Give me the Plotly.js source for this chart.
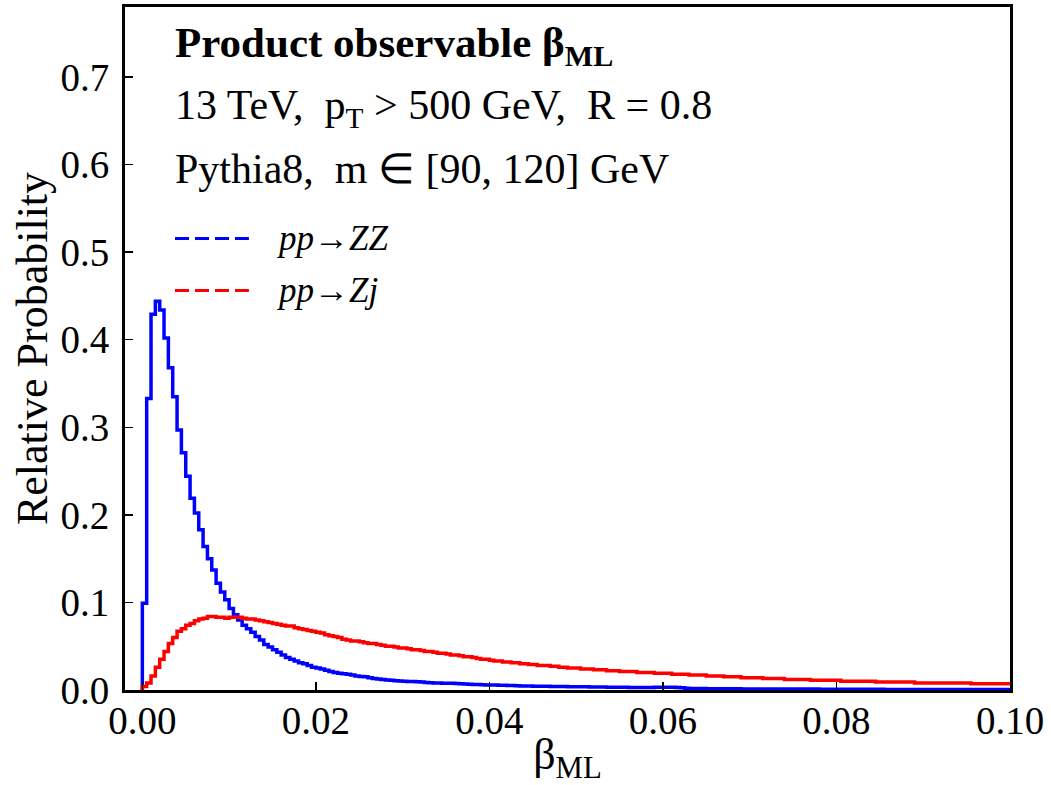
<!DOCTYPE html>
<html>
<head>
<meta charset="utf-8">
<script src="https://cdn.plot.ly/plotly-3.0.1.min.js"></script>
<style>html,body{margin:0;padding:0;background:#fff;}#chart{width:1051px;height:785px;}</style>
</head>
<body>
<div id="chart"></div>
<script>
// Histogram: 200 bins of width 0.0005 over [0, 0.1]
const binWidth = 0.0005;
const nBins = 200;

// pp -> ZZ (blue)
const zzValues = [
  0.099, 0.333, 0.429, 0.444, 0.434, 0.402, 0.368, 0.335, 0.297, 0.271,
  0.244, 0.219, 0.202, 0.183, 0.164, 0.150, 0.137, 0.122, 0.112, 0.103,
  0.093, 0.086, 0.080, 0.074, 0.070, 0.066, 0.061, 0.057, 0.052, 0.049,
  0.046, 0.043, 0.040, 0.037, 0.035, 0.033, 0.031, 0.030, 0.028, 0.026,
  0.025, 0.024, 0.0225, 0.021, 0.020, 0.019, 0.0185, 0.018, 0.017, 0.016,
  0.0155, 0.015, 0.014, 0.013, 0.0125, 0.012, 0.0115, 0.011, 0.0107, 0.0104,
  0.0100, 0.0098, 0.0096, 0.0093, 0.0090, 0.0087, 0.0084, 0.0081, 0.0079, 0.0078,
  0.0077, 0.0076, 0.0075, 0.0072, 0.0069, 0.0066, 0.0064, 0.0062, 0.0060, 0.0058,
  0.0057, 0.0056, 0.0054, 0.0053, 0.0051, 0.0050, 0.0048, 0.0047, 0.0046, 0.0045,
  0.0044, 0.0043, 0.0042, 0.0042, 0.0041, 0.0040, 0.0040, 0.0039, 0.0038, 0.0038,
  0.0037, 0.0036, 0.0036, 0.0035, 0.0034, 0.0033, 0.0033, 0.0032, 0.0031, 0.0031,
  0.0030, 0.0030, 0.0029, 0.0029, 0.0028, 0.0028, 0.0028, 0.0029, 0.0030, 0.0031,
  0.0031, 0.0030, 0.0030, 0.0029, 0.0027, 0.0020, 0.0018, 0.0017, 0.0016, 0.0016,
  0.0015, 0.0015, 0.0014, 0.0014, 0.0014, 0.0013, 0.0013, 0.0013, 0.0012, 0.0012,
  0.0012, 0.0012, 0.0011, 0.0011, 0.0011, 0.0011, 0.0010, 0.0010, 0.0010, 0.0010,
  0.0010, 0.0010, 0.0010, 0.0011, 0.0012, 0.0010, 0.0009, 0.0009, 0.0009, 0.0009,
  0.0008, 0.0008, 0.0008, 0.0008, 0.0008, 0.0008, 0.0008, 0.0008, 0.0008, 0.0008,
  0.0008, 0.0007, 0.0007, 0.0007, 0.0007, 0.0007, 0.0007, 0.0007, 0.0007, 0.0007,
  0.0006, 0.0006, 0.0006, 0.0006, 0.0006, 0.0006, 0.0006, 0.0006, 0.0006, 0.0006,
  0.0005, 0.0005, 0.0005, 0.0005, 0.0005, 0.0005, 0.0005, 0.0005, 0.0005, 0.0005
];

// pp -> Zj (red)
const zjValues = [
  0.004, 0.008, 0.016, 0.026, 0.035, 0.044, 0.053, 0.060, 0.067, 0.070,
  0.074, 0.076, 0.079, 0.081, 0.082, 0.084, 0.084, 0.083, 0.083, 0.082,
  0.083, 0.083, 0.083, 0.082, 0.081, 0.081, 0.080, 0.079, 0.078, 0.077,
  0.076, 0.075, 0.074, 0.073, 0.073, 0.071, 0.070, 0.069, 0.068, 0.067,
  0.066, 0.065, 0.063, 0.062, 0.061, 0.060, 0.058, 0.057, 0.056, 0.056,
  0.055, 0.054, 0.053, 0.053, 0.052, 0.051, 0.050, 0.050, 0.049, 0.048,
  0.048, 0.047, 0.046, 0.046, 0.045, 0.044, 0.044, 0.043, 0.042, 0.042,
  0.041, 0.040, 0.040, 0.039, 0.038, 0.038, 0.037, 0.036, 0.035, 0.035,
  0.034, 0.033, 0.033, 0.032, 0.032, 0.031, 0.031, 0.030, 0.030, 0.029,
  0.029, 0.028, 0.028, 0.028, 0.027, 0.027, 0.026, 0.026, 0.025, 0.025,
  0.025, 0.024, 0.024, 0.024, 0.023, 0.023, 0.023, 0.022, 0.022, 0.022,
  0.021, 0.021, 0.021, 0.021, 0.020, 0.020, 0.020, 0.020, 0.019, 0.019,
  0.019, 0.019, 0.018, 0.018, 0.018, 0.018, 0.017, 0.017, 0.017, 0.017,
  0.016, 0.016, 0.016, 0.016, 0.015, 0.015, 0.015, 0.015, 0.014, 0.014,
  0.014, 0.014, 0.014, 0.013, 0.013, 0.013, 0.013, 0.013, 0.012, 0.012,
  0.012, 0.012, 0.012, 0.012, 0.011, 0.011, 0.011, 0.011, 0.011, 0.011,
  0.011, 0.010, 0.010, 0.010, 0.010, 0.010, 0.010, 0.010, 0.010, 0.009,
  0.009, 0.009, 0.009, 0.009, 0.009, 0.009, 0.009, 0.009, 0.008, 0.008,
  0.008, 0.008, 0.008, 0.008, 0.008, 0.008, 0.008, 0.008, 0.008, 0.008,
  0.008, 0.007, 0.007, 0.007, 0.007, 0.007, 0.007, 0.007, 0.007, 0.007
];

const seriesNames = ['<i>pp</i>→<i>ZZ</i>', '<i>pp</i>→<i>Zj</i>'];
const seriesColors = ['#0000ff', '#ff0000'];

const yTickVals = [0.0, 0.1, 0.2, 0.3, 0.4, 0.5, 0.6, 0.7];
const yTickText = ['0.0', '0.1', '0.2', '0.3', '0.4', '0.5', '0.6', '0.7'];
const xTickVals = [0.00, 0.02, 0.04, 0.06, 0.08, 0.10];
const xTickText = ['0.00', '0.02', '0.04', '0.06', '0.08', '0.10'];

const titleLines = [
  '<b>Product observable β<sub>ML</sub></b>',
  '13 TeV,  p<sub>T</sub> > 500 GeV,  R = 0.8',
  'Pythia8,  m ∈ [90, 120] GeV'
];
const titleSizes = [43, 42, 42];

function stepXY(vals) {
  const xs = [0];
  const ys = [0];
  for (let i = 0; i < vals.length; i++) {
    xs.push(i * binWidth);
    ys.push(vals[i]);
  }
  xs.push(nBins * binWidth);
  ys.push(vals[vals.length - 1]);
  return {xs, ys};
}

const FONT = 'Liberation Serif, Times New Roman, serif';
const traces = [zzValues, zjValues].map((vals, k) => {
  const s = stepXY(vals);
  return {
    type: 'scatter', mode: 'lines', x: s.xs, y: s.ys,
    line: {shape: 'hv', color: seriesColors[k], width: 3.5},
    name: seriesNames[k], showlegend: false, hoverinfo: 'skip'
  };
});

// plot area in paper: x [125,1010] px, y [7,690] px
const annotations = [];
const lineY = [0.943, 0.852, 0.763];
titleLines.forEach((t, i) => {
  annotations.push({xref: 'paper', yref: 'paper', x: 0.054, y: lineY[i],
    xanchor: 'left', yanchor: 'middle', showarrow: false, text: t,
    font: {family: FONT, size: titleSizes[i], color: '#000'}});
});
const legY = [0.661, 0.585];
const shapes = [];
seriesNames.forEach((n, i) => {
  shapes.push({type: 'line', xref: 'paper', yref: 'paper', x0: 0.0565, x1: 0.140,
    y0: legY[i], y1: legY[i], line: {color: seriesColors[i], width: 3, dash: '14px,6px'}});
  annotations.push({xref: 'paper', yref: 'paper', x: 0.168, y: legY[i],
    xanchor: 'left', yanchor: 'middle', showarrow: false, text: n,
    font: {family: FONT, size: 35, color: '#000'}});
});

const layout = {
  width: 1051, height: 785,
  margin: {l: 125, r: 41, t: 7, b: 95, pad: 0},
  paper_bgcolor: '#fff', plot_bgcolor: '#fff',
  font: {family: FONT, size: 39, color: '#000'},
  showlegend: false,
  xaxis: {
    range: [-0.002, 0.1], tickvals: xTickVals, ticktext: xTickText,
    ticks: 'inside', ticklen: 8, tickwidth: 1.5, tickcolor: '#000',
    showline: true, linewidth: 3, linecolor: '#000', mirror: true,
    showgrid: false, zeroline: false, ticklabelstandoff: -6,
    tickfont: {family: FONT, size: 39},
    title: {text: 'β<sub>ML</sub>', font: {family: FONT, size: 44}, standoff: 10}
  },
  yaxis: {
    range: [0, 0.78], tickvals: yTickVals, ticktext: yTickText,
    ticks: 'inside', ticklen: 8, tickwidth: 1.5, tickcolor: '#000',
    showline: true, linewidth: 3, linecolor: '#000', mirror: true,
    showgrid: false, zeroline: false, ticklabelstandoff: 5,
    tickfont: {family: FONT, size: 39},
    title: {text: 'Relative Probability', font: {family: FONT, size: 44}, standoff: 0}
  },
  annotations: annotations,
  shapes: shapes
};

Plotly.newPlot('chart', traces, layout, {displayModeBar: false, staticPlot: true});
</script>
</body>
</html>
